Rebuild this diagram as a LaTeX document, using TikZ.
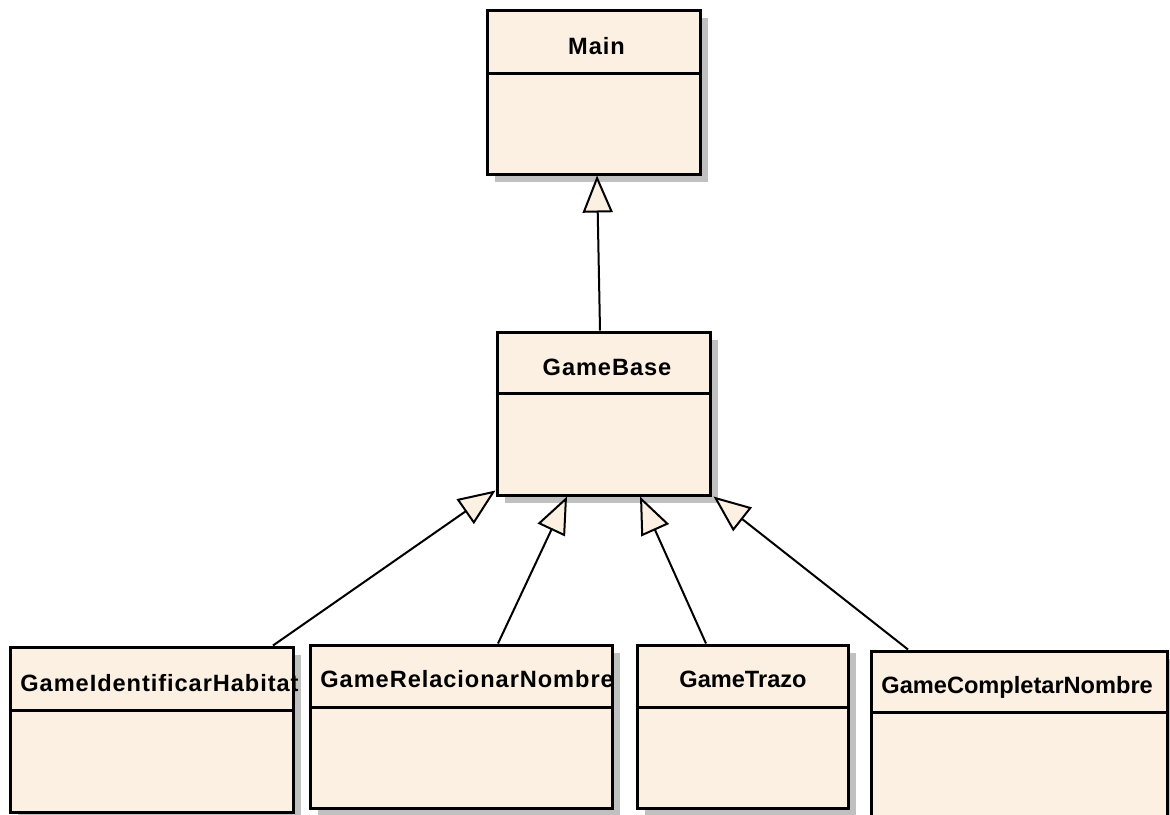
\documentclass[tikz,border=0pt]{standalone}
\usepackage{fontspec}
\setmainfont{Liberation Sans}
\newfontfamily\trackedfont[LetterSpace=4]{Liberation Sans}
\usetikzlibrary{arrows.meta,shadows,calc}
\definecolor{classfill}{HTML}{FBF0E2}
\definecolor{shadowgray}{HTML}{C0C0C0}

\begin{document}
\begin{tikzpicture}[x=0.5pt,y=-0.5pt,
  classbox/.style={draw=black, line width=1.5pt, fill=classfill, inner sep=0pt,
    drop shadow={shadow xshift=4pt, shadow yshift=-4pt, opacity=1, fill=shadowgray}},
  plaintitle/.style={font=\fontsize{11.8}{14}\selectfont\bfseries, inner sep=0pt},
  trackedtitle/.style={font=\trackedfont\fontsize{11.8}{14}\selectfont\bfseries, inner sep=0pt},
  divider/.style={line width=1.2pt},
  gen/.style={line width=1pt,
    -{Triangle[length=18.5pt, width=15pt, fill=classfill, line width=1pt]}}]

\useasboundingbox (0,0) rectangle (1170,814);

% class boxes
\node[classbox, minimum width=106.5pt, minimum height=82pt]   (main)  at (593.5,92)    {};
\node[classbox, minimum width=106.5pt, minimum height=81.5pt] (base)  at (603.5,413.5) {};
\node[classbox, minimum width=141.5pt, minimum height=82.5pt] (hab)   at (151.5,729.5) {};
\node[classbox, minimum width=151pt,   minimum height=81.5pt] (rel)   at (461,726.5)   {};
\node[classbox, minimum width=105.5pt, minimum height=81.5pt] (trazo) at (742.5,726.5) {};
\node[classbox, minimum width=148pt,   minimum height=84.5pt] (comp)  at (1019,735.5) {};

% compartment dividers
\draw[divider] ($(main.north west)+(0,65)$)  -- ($(main.north east)+(0,65)$);
\draw[divider] ($(base.north west)+(0,63)$)  -- ($(base.north east)+(0,63)$);
\draw[divider] ($(hab.north west)+(0,65)$)   -- ($(hab.north east)+(0,65)$);
\draw[divider] ($(rel.north west)+(0,64)$)   -- ($(rel.north east)+(0,64)$);
\draw[divider] ($(trazo.north west)+(0,64)$) -- ($(trazo.north east)+(0,64)$);
\draw[divider] ($(comp.north west)+(0,63)$)  -- ($(comp.north east)+(0,63)$);

% class names
\node[trackedtitle, anchor=base]      (mainT)  at (596.5,54) {Main};
\node[trackedtitle, anchor=base]      (baseT)  at (607,375)  {GameBase};
\node[trackedtitle, anchor=base west] (habT)   at (20,691)   {GameIdentificarHabitat};
\node[trackedtitle, anchor=base west] (relT)   at (320,687)  {GameRelacionarNombre};
\node[plaintitle,   anchor=base]      (trazoT) at (743,687)  {GameTrazo};
\node[plaintitle,   anchor=base west] (compT)  at (881,693)  {GameCompletarNombre};

% generalizations
\draw[gen] ($(base.north)+(-3.5,0)$)  -- ($(main.south)+(3.5,0)$);
\draw[gen] ($(hab.north)+(121.5,0)$)  -- ($(base.south west)+(0,-6)$);
\draw[gen] ($(rel.north)+(37,0)$)     -- ($(base.south)+(-36.5,0)$);
\draw[gen] ($(trazo.north)+(-36.5,0)$) -- ($(base.south)+(36.5,0)$);
\draw[gen] ($(comp.north)+(-111,0)$)  -- ($(base.south east)+(2,0)$);
\end{tikzpicture}
\end{document}
